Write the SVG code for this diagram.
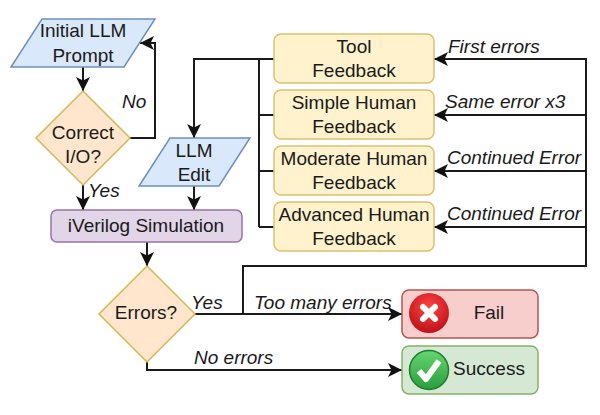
<svg xmlns="http://www.w3.org/2000/svg" width="600" height="415" viewBox="0 0 600 415">
<style>
text{font-family:"Liberation Sans",Arial,sans-serif;font-size:19px;fill:#1a1a1a;text-anchor:middle}
.l{font-style:italic;font-size:19px;text-anchor:start}
.c{fill:none;stroke:#1a1a1a;stroke-width:2}
.b{fill:#dae8fc;stroke:#6c8ebf;stroke-width:1.5}
.d{fill:#ffe6cc;stroke:#d6b656;stroke-width:1.5}
.y{fill:#fff2cc;stroke:#dcc270;stroke-width:1.5}
.w{fill:none;stroke:#fff;stroke-width:6}
</style>
<defs>
<marker id="a" markerUnits="userSpaceOnUse" markerWidth="16" markerHeight="16" refX="14" refY="7" orient="auto" viewBox="0 0 16 14"><path d="M0 0L14 7L0 14L3.500 7Z" fill="#111"/></marker>
<radialGradient id="r" cx=".5" cy=".35" r=".7"><stop offset="0" stop-color="#f44"/><stop offset="1" stop-color="#b80f14"/></radialGradient>
<linearGradient id="g" x1="0" y1="0" x2="0" y2="1"><stop offset="0" stop-color="#63d66f"/><stop offset="1" stop-color="#2b9e3c"/></linearGradient>
</defs>
<g id="connectors">
<path class="c" marker-end="url(#a)" d="M83 67V91"/>
<path class="c" marker-end="url(#a)" d="M130 138H155V43H140"/>
<path class="c" marker-end="url(#a)" d="M83 185V210"/>
<path class="c" marker-end="url(#a)" d="M194 186V210"/>
<path class="c" marker-end="url(#a)" d="M274 59H194V138"/>
<path class="c" d="M274 115H259M274 171H259M274 227H259M259 59V227"/>
<path class="c" marker-end="url(#a)" d="M147 242V266"/>
<path class="c" marker-end="url(#a)" d="M195 314H402"/>
<path class="c" marker-end="url(#a)" d="M147 362V370H402"/>
<path class="c" marker-end="url(#a)" d="M243 314V266H586V59H434"/>
<path class="c" marker-end="url(#a)" d="M586 115H434"/>
<path class="c" marker-end="url(#a)" d="M586 171H434"/>
<path class="c" marker-end="url(#a)" d="M586 227H434"/>
</g>
<g id="initial-prompt"><path class="b" d="M42 19H155L124 67H11Z"/><text x="83" y="37">Initial LLM</text><text x="83" y="62">Prompt</text></g>
<g id="correct-io"><path class="d" d="M83 91L130 138L83 185L36 138Z"/><text x="83" y="139">Correct</text><text x="83" y="163">I/O?</text></g>
<g id="llm-edit"><path class="b" d="M170 138H250L219 186H139Z"/><text x="194" y="157">LLM</text><text x="194" y="181">Edit</text></g>
<g id="iverilog"><rect x="51" y="210" width="191" height="32" rx="6" fill="#e1d5e7" stroke="#9673a6" stroke-width="1.500"/><text x="146" y="232">iVerilog Simulation</text></g>
<g id="tool"><rect class="y" x="274" y="34" width="160" height="49" rx="7"/><text x="354" y="53">Tool</text><text x="354" y="77">Feedback</text></g>
<g id="simple"><rect class="y" x="274" y="90" width="160" height="49" rx="7"/><text x="354" y="109">Simple Human</text><text x="354" y="133">Feedback</text></g>
<g id="moderate"><rect class="y" x="274" y="146" width="160" height="49" rx="7"/><text x="354" y="165">Moderate Human</text><text x="354" y="189">Feedback</text></g>
<g id="advanced"><rect class="y" x="274" y="202" width="160" height="49" rx="7"/><text x="354" y="221">Advanced Human</text><text x="354" y="245">Feedback</text></g>
<g id="errors"><path class="d" d="M147 266L195 314L147 362L99 314Z"/><text x="146" y="319">Errors?</text></g>
<g id="fail"><rect x="402" y="290" width="136" height="48" rx="7" fill="#f8cecc" stroke="#b85450" stroke-width="1.500"/><circle cx="429" cy="313" r="20" fill="url(#r)"/><path class="w" stroke-linecap="round" d="M423 307L435 319M435 307L423 319"/><text x="489" y="319">Fail</text></g>
<g id="success"><rect x="402" y="346" width="136" height="48" rx="7" fill="#d5e8d4" stroke="#82b366" stroke-width="1.500"/><circle cx="429" cy="370" r="19.500" fill="url(#g)" stroke="#1e7b2e" stroke-width="1.500"/><path class="w" stroke-linejoin="round" d="M419 371L426 379L439 361"/><text x="489" y="375">Success</text></g>
<g id="labels">
<text class="l" x="122" y="108">No</text>
<text class="l" x="88" y="197">Yes</text>
<text class="l" x="448" y="53">First errors</text>
<text class="l" x="445" y="108">Same error x3</text>
<text class="l" x="447" y="164">Continued Error</text>
<text class="l" x="447" y="220">Continued Error</text>
<text class="l" x="191" y="309">Yes</text>
<text class="l" x="254" y="309">Too many errors</text>
<text class="l" x="194" y="364">No errors</text>
</g>
</svg>
